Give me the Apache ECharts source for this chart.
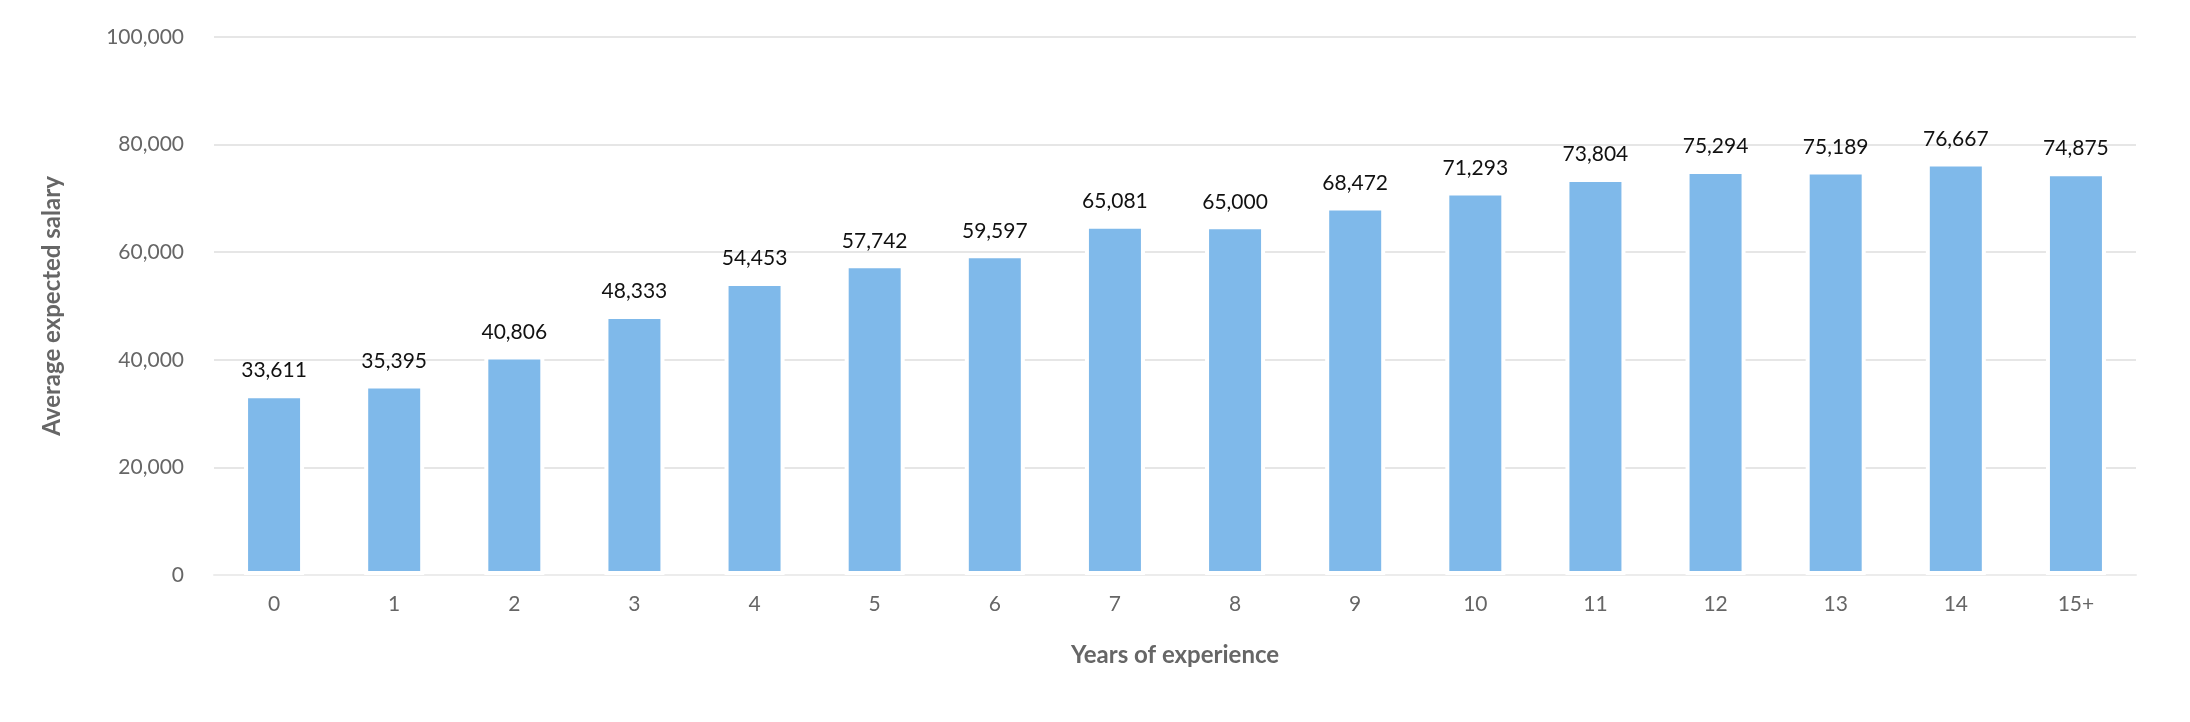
<!DOCTYPE html>
<html>
<head>
<meta charset="utf-8">
<script src="https://cdn.jsdelivr.net/npm/echarts@6/dist/echarts.min.js"></script>
<style>
  html, body { margin: 0; padding: 0; background: #ffffff; }
  #main { width: 2190px; height: 722px; }
</style>
</head>
<body>
<div id="main"></div>
<script>
// years of experience on the x axis
const years = ['0', '1', '2', '3', '4', '5', '6', '7', '8', '9', '10', '11', '12', '13', '14', '15+'];
// average expected salary per year bucket
const salary = [33611, 35395, 40806, 48333, 54453, 57742, 59597, 65081, 65000, 68472, 71293, 73804, 75294, 75189, 76667, 74875];

const fmt = function (v) {
    return Number(v).toLocaleString('en-US');
};

var myChart = echarts.init(document.getElementById('main'));
myChart.setOption({
    animation: false,
    backgroundColor: '#ffffff',
    grid: {
        left: 214,
        right: 54,
        top: 37,
        bottom: 147
    },
    xAxis: {
        type: 'category',
        data: years,
        name: 'Years of experience',
        nameLocation: 'middle',
        nameGap: 68,
        nameTextStyle: {
            fontFamily: 'Lato',
            fontWeight: 'bold',
            fontSize: 24,
            color: '#666666'
        },
        axisTick: { show: false },
        axisLine: { lineStyle: { color: '#ececec', width: 2 } },
        axisLabel: {
            margin: 19,
            fontFamily: 'Lato',
            fontSize: 21,
            color: '#666666'
        }
    },
    yAxis: {
        type: 'value',
        min: 0,
        max: 100000,
        interval: 20000,
        name: 'Average expected salary',
        nameLocation: 'middle',
        nameGap: 150,
        nameTextStyle: {
            fontFamily: 'Lato',
            fontWeight: 'bold',
            fontSize: 24,
            color: '#666666'
        },
        axisLine: { show: false },
        axisTick: { show: false },
        splitLine: { lineStyle: { color: '#e6e6e6', width: 2 } },
        axisLabel: {
            margin: 30,
            fontFamily: 'Lato',
            fontSize: 21,
            color: '#666666',
            formatter: fmt
        }
    },
    series: [
        {
            type: 'bar',
            data: salary,
            barWidth: 60,
            itemStyle: {
                color: '#7fb9ea',
                borderColor: '#ffffff',
                borderWidth: 4
            },
            label: {
                show: true,
                position: 'top',
                distance: 13,
                fontFamily: 'Lato',
                fontSize: 21,
                color: '#111111',
                formatter: function (p) { return fmt(p.value); }
            }
        }
    ]
});
</script>
</body>
</html>
